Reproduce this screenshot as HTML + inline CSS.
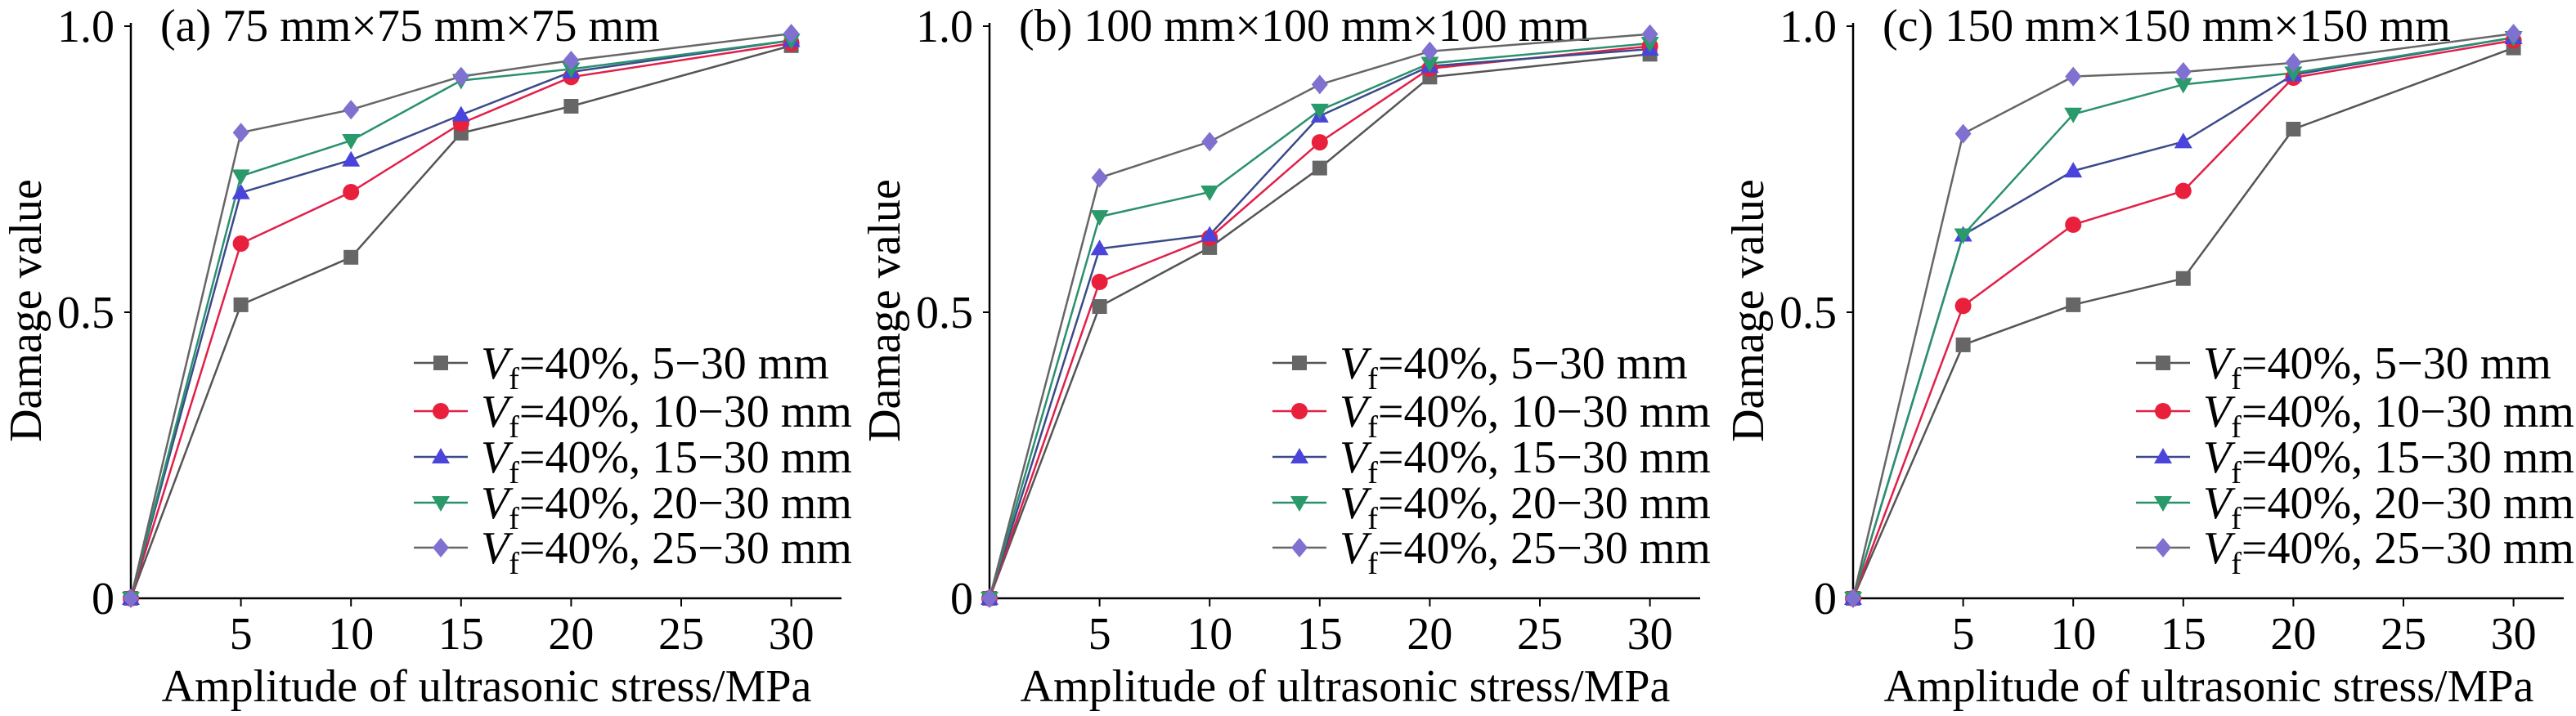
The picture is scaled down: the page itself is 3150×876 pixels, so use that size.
<!DOCTYPE html>
<html><head><meta charset="utf-8"><style>
html,body{margin:0;padding:0;background:#fff;}
svg{display:block;font-family:"Liberation Serif",serif;}
</style></head><body>
<svg id="s" width="3150" height="876" viewBox="0 0 3150 876" xmlns="http://www.w3.org/2000/svg"></svg>
<script>
const S=document.getElementById('s');
const X0s=[160,1210,2266];
const titles=['(a) 75 mm×75 mm×75 mm','(b) 100 mm×100 mm×100 mm','(c) 150 mm×150 mm×150 mm'];
const xs=[0,5,10,15,20,30];
const data=[
 [[0,.513,.596,.813,.86,.966],[0,.62,.71,.83,.911,.97],[0,.709,.766,.845,.92,.975],[0,.738,.80,.905,.925,.975],[0,.814,.854,.912,.94,.987]],
 [[0,.51,.613,.752,.911,.951],[0,.553,.63,.797,.926,.965],[0,.611,.635,.843,.93,.96],[0,.667,.71,.853,.935,.97],[0,.735,.798,.898,.956,.986]],
 [[0,.443,.513,.559,.82,.962],[0,.511,.653,.712,.91,.975],[0,.635,.747,.798,.915,.98],[0,.635,.846,.898,.918,.98],[0,.812,.912,.92,.936,.987]]
];
const lineC=['#555','#e0204a','#3a4a8a','#2a9070','#666'];
const mkC=['#666','#e8203c','#4a44dd','#2a9a6a','#8070d0'];
const labels=['5−30','10−30','15−30','20−30','25−30'];
const F=56;
function Y(v){return 732-700*v;}
function marker(t,x,y,c){
 if(t==0)return `<rect x="${x-9}" y="${y-9}" width="18" height="18" fill="${c}"/>`;
 if(t==1)return `<circle cx="${x}" cy="${y}" r="10" fill="${c}"/>`;
 if(t==2)return `<polygon points="${x},${y-11} ${x-11},${y+8} ${x+11},${y+8}" fill="${c}"/>`;
 if(t==3)return `<polygon points="${x},${y+11} ${x-11},${y-8} ${x+11},${y-8}" fill="${c}"/>`;
 return `<polygon points="${x},${y-12} ${x+10},${y} ${x},${y+12} ${x-10},${y}" fill="${c}"/>`;
}
let h='';
X0s.forEach((X0,p)=>{
 const X=v=>X0+v*26.92;
 h+=`<line x1="${X0}" y1="28" x2="${X0}" y2="733" stroke="#000" stroke-width="2.5"/>`;
 h+=`<line x1="${X0}" y1="732" x2="${X0+869}" y2="732" stroke="#000" stroke-width="2.5"/>`;
 [[1,'1.0'],[.5,'0.5'],[0,'0']].forEach(([v,t])=>{
  h+=`<line x1="${X0-8}" y1="${Y(v)}" x2="${X0}" y2="${Y(v)}" stroke="#000" stroke-width="2"/>`;
  h+=`<text x="${X0-20}" y="${Y(v)+19}" font-size="${F}" text-anchor="end">${t}</text>`;
 });
 [5,10,15,20,25,30].forEach(v=>{
  h+=`<line x1="${X(v)}" y1="732" x2="${X(v)}" y2="742" stroke="#000" stroke-width="2"/>`;
  h+=`<text x="${X(v)}" y="794" font-size="${F}" text-anchor="middle">${v}</text>`;
 });
 h+=`<text x="${X0+435}" y="858" font-size="${F}" text-anchor="middle">Amplitude of ultrasonic stress/MPa</text>`;
 const ly=X0-128;
 h+=`<text transform="translate(${ly+18},380) rotate(-90)" font-size="${F}" text-anchor="middle">Damage value</text>`;
 h+=`<text x="${X0+36}" y="50" font-size="${F}">${titles[p]}</text>`;
 data[p].forEach((s,i)=>{
  h+=`<polyline fill="none" stroke="${lineC[i]}" stroke-width="2.5" points="${s.map((v,k)=>X(xs[k])+','+Y(v)).join(' ')}"/>`;
 });
 data[p].forEach((s,i)=>{s.forEach((v,k)=>{h+=marker(i,X(xs[k]),Y(v),mkC[i]);});});
 [444,503,559,615,670].forEach((y,i)=>{
  h+=`<line x1="${X0+346}" y1="${y}" x2="${X0+412}" y2="${y}" stroke="${lineC[i]}" stroke-width="2.5"/>`;
  h+=marker(i,X0+379,y,mkC[i]);
  h+=`<text x="${X0+428}" y="${y+19}" font-size="${F}"><tspan font-style="italic">V</tspan><tspan font-size="38" dy="13">f</tspan><tspan dy="-13">=40%, ${labels[i]} mm</tspan></text>`;
 });
});
S.innerHTML=h;
</script>
</body></html>
